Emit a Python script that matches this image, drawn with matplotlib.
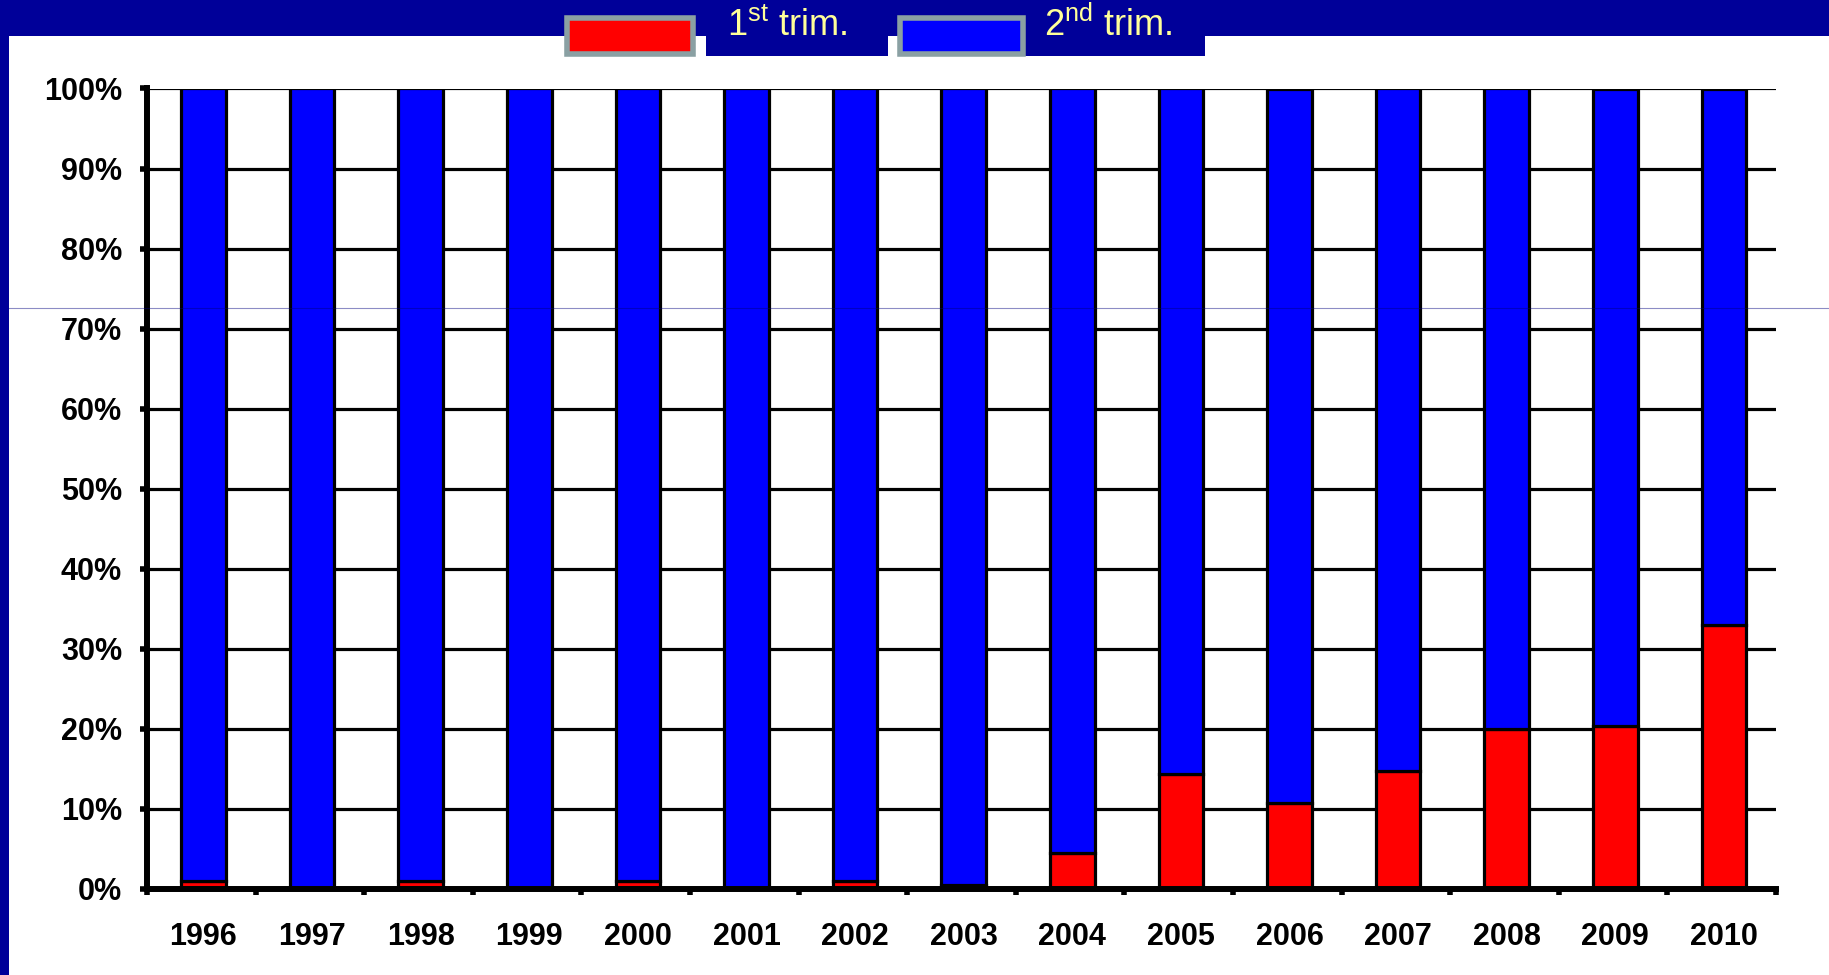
import numpy as np
import matplotlib.pyplot as plt
from matplotlib.patches import Rectangle
from matplotlib.lines import Line2D

plt.rcParams['font.family'] = ['Liberation Sans', 'DejaVu Sans']
plt.rcParams['mathtext.fontset'] = 'custom'
plt.rcParams['mathtext.rm'] = 'Liberation Sans'

years = ['1996', '1997', '1998', '1999', '2000', '2001', '2002', '2003',
         '2004', '2005', '2006', '2007', '2008', '2009', '2010']
first_trim = [1.0, 0.0, 1.0, 0.0, 1.0, 0.0, 1.0, 0.5,
              4.5, 14.4, 10.8, 14.8, 20.0, 20.4, 33.0]
second_trim = [100 - v for v in first_trim]
series_labels = [r'1$^{\rm st}$ trim.', r'2$^{\rm nd}$ trim.']
series_colors = ['#ff0000', '#0000ff']
yticks = list(range(0, 101, 10))

W, H = 1829, 975
navy = '#000099'
fig = plt.figure(figsize=(W / 100, H / 100), dpi=100)
fig.patch.set_facecolor('white')

# navy frame: top band and left strip
fig.add_artist(Rectangle((0, 1 - 36 / H), 1, 36 / H, transform=fig.transFigure,
                         color=navy, lw=0, zorder=0))
fig.add_artist(Rectangle((0, 0), 9 / W, 1, transform=fig.transFigure,
                         color=navy, lw=0, zorder=0))

ax = fig.add_axes([147 / W, 86 / H, (1776 - 147) / W, (886.5 - 86) / H])
x = np.arange(len(years)) + 0.52
ax.bar(x, first_trim, width=0.41, color=series_colors[0], edgecolor='black',
       linewidth=2.3, zorder=3)
ax.bar(x, second_trim, bottom=first_trim, width=0.41, color=series_colors[1],
       edgecolor='black', linewidth=2.3, zorder=3)

ax.set_xlim(0, len(years))
ax.set_ylim(0, 100)
ax.set_axisbelow(True)
ax.yaxis.grid(True, color='black', linewidth=2.3)
ax.set_yticks(yticks)
ax.set_yticklabels([f'{t}%' for t in yticks], fontsize=22, fontweight='bold')
ax.tick_params(axis='y', direction='out', length=5, width=4, pad=13)
ax.set_xticks(x)
ax.set_xticklabels(years, fontsize=22, fontweight='bold')
ax.set_xticks(np.arange(len(years) + 1), minor=True)
ax.tick_params(axis='x', which='major', length=0, pad=24)
ax.tick_params(axis='x', which='minor', direction='out', length=4.5, width=4)
for s in ['top', 'right']:
    ax.spines[s].set_visible(False)
for s in ['left', 'bottom']:
    ax.spines[s].set_linewidth(4.3)
    ax.spines[s].set_zorder(5)

# legend at top
boxes = [(567, 693, 706, 888), (900, 1023, 1023, 1205)]
for (px0, px1, tx0, tx1), lab, col in zip(boxes, series_labels, series_colors):
    fig.add_artist(Rectangle((tx0 / W, 1 - 56 / H), (tx1 - tx0) / W, 56 / H,
                             transform=fig.transFigure, color=navy, lw=0, zorder=1))
    fig.add_artist(Rectangle((px0 / W, 1 - 54 / H), (px1 - px0) / W, 36 / H,
                             transform=fig.transFigure, facecolor=col,
                             edgecolor='#8aa0a3', lw=4, zorder=2))
    fig.text((tx0 + 21) / W, 1 - 36 / H, lab, fontsize=26, color='#ffff99',
             ha='left', va='baseline', zorder=3)

# faint horizontal line across the picture
fig.add_artist(Line2D([9 / W, 1], [1 - 308 / H, 1 - 308 / H], transform=fig.transFigure,
                      color='#00007f', alpha=0.45, lw=0.8, zorder=10))

fig.savefig('out.png', dpi=100)
